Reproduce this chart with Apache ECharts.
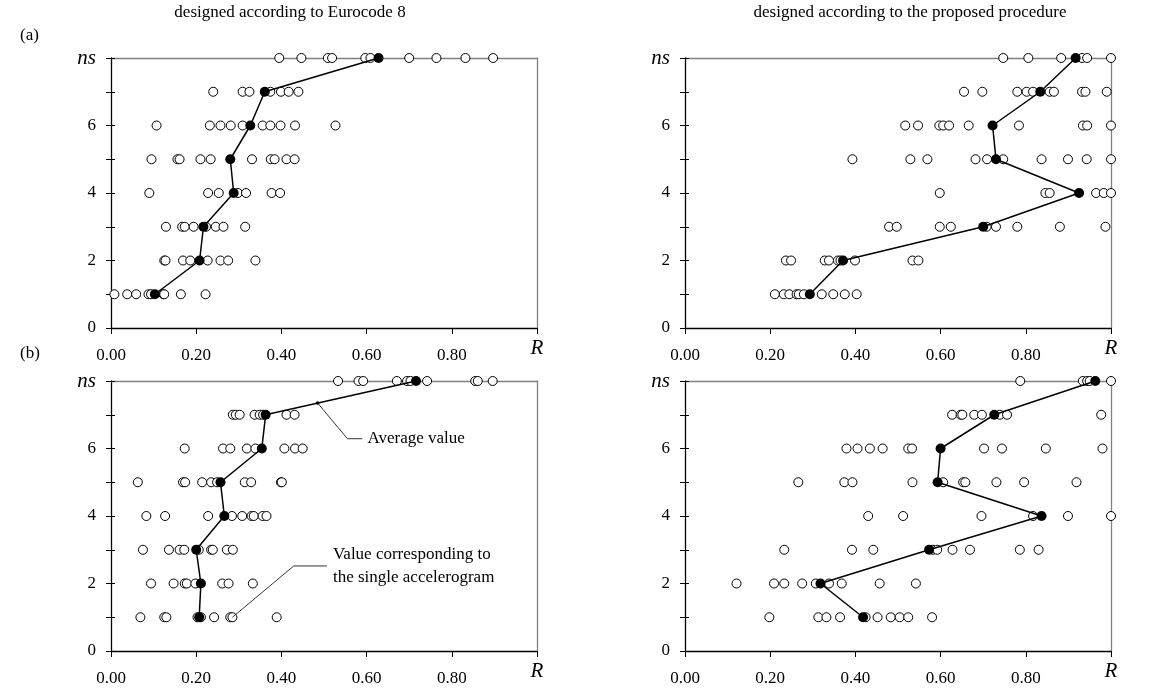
<!DOCTYPE html>
<html><head><meta charset="utf-8">
<script src="https://cdn.jsdelivr.net/npm/echarts@6/dist/echarts.min.js"></script>
<style>html,body{margin:0;padding:0;background:#fff}#c{width:1153px;height:691px}</style>
</head><body><div id="c"></div>
<script>
// ---- tick labels and texts ----
const xTickValues = [0, 0.2, 0.4, 0.6, 0.8, 1.0];
const xTickLabels = ['0.00', '0.20', '0.40', '0.60', '0.80', 'R'];
const yTickLabels = ['0', '', '2', '', '4', '', '6', '', 'ns'];
const panelTitles = ['designed according to Eurocode 8', 'designed according to the proposed procedure'];
const rowLabels = ['(a)', '(b)'];
const noteAverage = 'Average value';
const noteSingle = 'Value corresponding to\nthe single accelerogram';

// ---- data: R for each accelerogram, rows are ns = 1..8 ----
const ec8A = [
  [0.008, 0.038, 0.059, 0.088, 0.094, 0.123, 0.125, 0.164, 0.222],
  [0.125, 0.128, 0.169, 0.186, 0.227, 0.257, 0.275, 0.339],
  [0.129, 0.167, 0.173, 0.194, 0.223, 0.246, 0.264, 0.315],
  [0.090, 0.228, 0.253, 0.298, 0.317, 0.377, 0.397],
  [0.095, 0.156, 0.161, 0.210, 0.234, 0.331, 0.375, 0.384, 0.412, 0.431],
  [0.107, 0.232, 0.257, 0.281, 0.309, 0.356, 0.374, 0.398, 0.432, 0.527],
  [0.240, 0.309, 0.325, 0.374, 0.399, 0.417, 0.440],
  [0.395, 0.447, 0.509, 0.519, 0.597, 0.609, 0.700, 0.764, 0.832, 0.897]
];
const ec8AAvg = [0.103, 0.208, 0.217, 0.288, 0.280, 0.327, 0.361, 0.628];

const propA = [
  [0.211, 0.232, 0.245, 0.262, 0.267, 0.279, 0.321, 0.348, 0.375, 0.403],
  [0.237, 0.249, 0.328, 0.338, 0.359, 0.365, 0.399, 0.534, 0.548],
  [0.479, 0.497, 0.598, 0.624, 0.708, 0.730, 0.780, 0.880, 0.987],
  [0.598, 0.846, 0.856, 0.965, 0.983, 1.000],
  [0.393, 0.529, 0.569, 0.682, 0.709, 0.747, 0.837, 0.899, 0.943, 1.000],
  [0.517, 0.547, 0.597, 0.606, 0.620, 0.666, 0.784, 0.934, 0.944, 1.000],
  [0.655, 0.698, 0.780, 0.802, 0.817, 0.856, 0.866, 0.932, 0.940, 0.990],
  [0.747, 0.806, 0.883, 0.932, 0.944, 1.000]
];
const propAAvg = [0.293, 0.371, 0.700, 0.925, 0.730, 0.722, 0.834, 0.917];

const ec8B = [
  [0.069, 0.125, 0.130, 0.203, 0.211, 0.242, 0.280, 0.285, 0.389],
  [0.094, 0.147, 0.173, 0.178, 0.198, 0.261, 0.276, 0.333],
  [0.075, 0.136, 0.161, 0.172, 0.206, 0.235, 0.239, 0.272, 0.286],
  [0.083, 0.127, 0.228, 0.284, 0.308, 0.330, 0.335, 0.356, 0.365],
  [0.063, 0.169, 0.174, 0.214, 0.235, 0.249, 0.314, 0.329, 0.399, 0.401],
  [0.173, 0.263, 0.280, 0.319, 0.339, 0.407, 0.432, 0.450],
  [0.286, 0.293, 0.302, 0.337, 0.349, 0.357, 0.412, 0.431],
  [0.533, 0.581, 0.592, 0.671, 0.695, 0.703, 0.742, 0.855, 0.861, 0.896]
];
const ec8BAvg = [0.207, 0.211, 0.200, 0.266, 0.257, 0.354, 0.363, 0.716];

const propB = [
  [0.198, 0.313, 0.332, 0.364, 0.424, 0.452, 0.483, 0.504, 0.524, 0.580],
  [0.121, 0.209, 0.233, 0.275, 0.307, 0.338, 0.368, 0.457, 0.542],
  [0.233, 0.392, 0.442, 0.582, 0.592, 0.628, 0.669, 0.786, 0.830],
  [0.430, 0.512, 0.696, 0.817, 0.899, 1.000],
  [0.266, 0.374, 0.393, 0.534, 0.606, 0.653, 0.658, 0.731, 0.796, 0.919],
  [0.379, 0.405, 0.434, 0.464, 0.524, 0.533, 0.702, 0.744, 0.847, 0.980],
  [0.627, 0.647, 0.651, 0.679, 0.697, 0.739, 0.756, 0.977],
  [0.787, 0.934, 0.944, 0.950, 1.000]
];
const propBAvg = [0.418, 0.318, 0.573, 0.837, 0.593, 0.600, 0.726, 0.963];

// annotation anchors (data coordinates of bottom-left panel)
const avgNotePts = [[0.485, 7.346], [0.555, 6.29], [0.590, 6.29]];
const avgNoteText = [0.602, 6.29];
const singleNotePts = [[0.285, 1], [0.429, 2.52], [0.507, 2.52]];
const singleNoteText = [0.521, 2.52];

// ---- chart ----
const FONT = '"Liberation Serif", "Times New Roman", serif';
const panels = [
  { rows: ec8A, avg: ec8AAvg },
  { rows: propA, avg: propAAvg },
  { rows: ec8B, avg: ec8BAvg },
  { rows: propB, avg: propBAvg }
];
const grids = [
  { left: 111, top: 58, width: 426, height: 270 },
  { left: 685, top: 58, width: 426, height: 270 },
  { left: 111, top: 381, width: 426, height: 270 },
  { left: 685, top: 381, width: 426, height: 270 }
];

const xAxes = [], yAxes = [], series = [];
panels.forEach((p, i) => {
  xAxes.push({
    gridIndex: i, type: 'value', min: 0, max: 1, interval: 0.2, position: 'bottom',
    axisLine: { onZero: false, lineStyle: { color: '#000', width: 1.3 } },
    axisTick: { length: 6, lineStyle: { color: '#000', width: 1 } },
    axisLabel: {
      margin: 19, color: '#000', fontFamily: FONT, fontSize: 17,
      formatter: v => {
        const k = xTickValues.findIndex(t => Math.abs(t - v) < 1e-6);
        if (k < 0) return '';
        return k === xTickValues.length - 1 ? '{r|' + xTickLabels[k] + '}' : xTickLabels[k];
      },
      rich: { r: { fontStyle: 'italic', fontSize: 21, fontFamily: FONT, lineHeight: 3, color: '#000' } }
    },
    splitLine: { show: false }
  });
  xAxes.push({
    gridIndex: i, type: 'value', min: 0, max: 1, position: 'top',
    axisLine: { onZero: false, lineStyle: { color: '#808080', width: 1.3 } },
    axisTick: { show: false }, axisLabel: { show: false }, splitLine: { show: false }
  });
  yAxes.push({
    gridIndex: i, type: 'value', min: 0, max: 8, interval: 1, position: 'left',
    axisLine: { onZero: false, lineStyle: { color: '#000', width: 1.3 } },
    axisTick: { length: 5, lineStyle: { color: '#000', width: 1 } },
    axisLabel: {
      margin: 15, color: '#000', fontFamily: FONT, fontSize: 17,
      formatter: v => {
        const s = yTickLabels[Math.round(v)] || '';
        return s === 'ns' ? '{ns|ns}' : s;
      },
      rich: { ns: { fontStyle: 'italic', fontSize: 21, fontFamily: FONT, color: '#000' } }
    },
    splitLine: { show: false }
  });
  yAxes.push({
    gridIndex: i, type: 'value', min: 0, max: 8, interval: 1, position: 'left',
    axisLine: { show: false, onZero: false },
    axisTick: { inside: true, length: 4, lineStyle: { color: '#000', width: 1 } },
    axisLabel: { show: false }, splitLine: { show: false }
  });
  yAxes.push({
    gridIndex: i, type: 'value', min: 0, max: 8, position: 'right',
    axisLine: { show: true, onZero: false, lineStyle: { color: '#808080', width: 1.3 } },
    axisTick: { show: false }, axisLabel: { show: false }, splitLine: { show: false }
  });
  const pts = [];
  p.rows.forEach((vals, k) => vals.forEach(v => pts.push([v, k + 1])));
  series.push({
    type: 'scatter', xAxisIndex: 2 * i, yAxisIndex: 3 * i, data: pts,
    symbol: 'circle', symbolSize: 9, clip: false, z: 2, silent: true,
    itemStyle: { color: '#fff', borderColor: '#000', borderWidth: 1, opacity: 1 }
  });
  series.push({
    type: 'line', xAxisIndex: 2 * i, yAxisIndex: 3 * i,
    data: p.avg.map((v, k) => [v, k + 1]),
    symbol: 'circle', symbolSize: 10, showSymbol: true, clip: false, z: 3, silent: true,
    itemStyle: { color: '#000', borderColor: '#000', borderWidth: 0 },
    lineStyle: { color: '#000', width: 1.5 }
  });
});

const chart = echarts.init(document.getElementById('c'), null, { renderer: 'canvas' });
chart.setOption({
  animation: false,
  backgroundColor: '#fff',
  grid: grids,
  xAxis: xAxes,
  yAxis: yAxes,
  series: series
});

function px(gi, pt) { return chart.convertToPixel({ xAxisIndex: 2 * gi, yAxisIndex: 3 * gi }, pt); }

const font17 = '17px ' + FONT;
const graphics = [
  { type: 'text', x: 290, y: 13, style: { text: panelTitles[0], font: font17, fill: '#000', align: 'center', verticalAlign: 'middle' } },
  { type: 'text', x: 910, y: 13, style: { text: panelTitles[1], font: font17, fill: '#000', align: 'center', verticalAlign: 'middle' } },
  { type: 'text', x: 20, y: 36, style: { text: rowLabels[0], font: font17, fill: '#000', align: 'left', verticalAlign: 'middle' } },
  { type: 'text', x: 20, y: 354, style: { text: rowLabels[1], font: font17, fill: '#000', align: 'left', verticalAlign: 'middle' } }
];
const a0 = px(2, avgNotePts[0]);
graphics.push({ type: 'circle', shape: { cx: a0[0], cy: a0[1], r: 1.8 }, style: { fill: '#000' }, z: 10 });
graphics.push({ type: 'polyline', shape: { points: avgNotePts.map(p => px(2, p)) }, style: { stroke: '#000', lineWidth: 0.8, fill: null }, z: 10 });
const at = px(2, avgNoteText);
graphics.push({ type: 'text', x: at[0], y: at[1], style: { text: noteAverage, font: font17, fill: '#000', align: 'left', verticalAlign: 'middle' }, z: 10 });
graphics.push({ type: 'polyline', shape: { points: singleNotePts.map(p => px(2, p)) }, style: { stroke: '#000', lineWidth: 0.8, fill: null }, z: 10 });
const st = px(2, singleNoteText);
graphics.push({ type: 'text', x: st[0], y: st[1], style: { text: noteSingle, font: font17, lineHeight: 23, fill: '#000', align: 'left', verticalAlign: 'middle' }, z: 10 });

chart.setOption({ graphic: graphics });
</script></body></html>
